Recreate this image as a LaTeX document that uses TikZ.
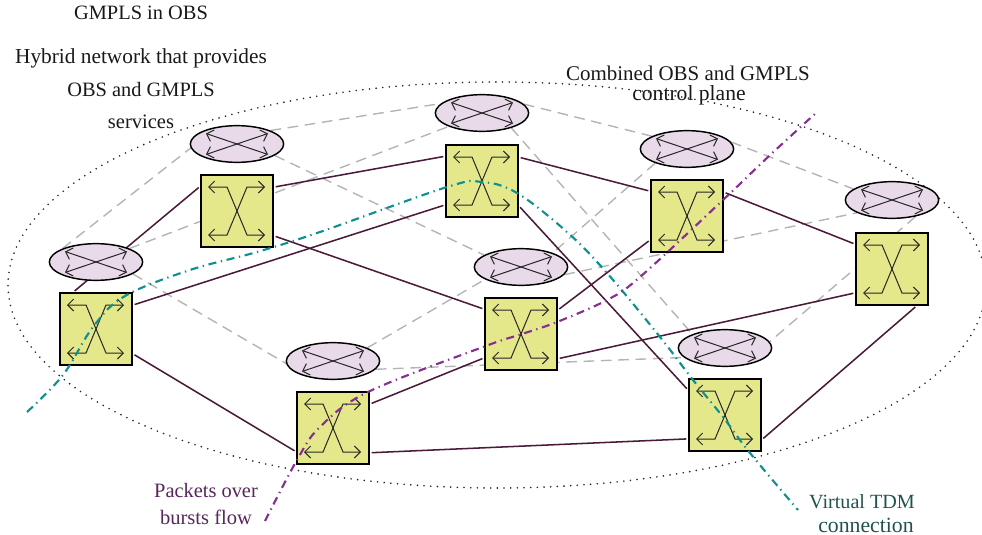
\documentclass[tikz,border=0pt]{standalone}
\usepackage{fontspec}
\setmainfont{Liberation Serif}
\usetikzlibrary{shapes.geometric,arrows.meta,backgrounds}
\definecolor{swfill}{HTML}{E4E88A}
\definecolor{elfill}{HTML}{E8DAE8}
\definecolor{linkc}{HTML}{4A1A38}
\definecolor{dashc}{HTML}{B4B4B4}
\definecolor{tealc}{HTML}{0E8F90}
\definecolor{purpc}{HTML}{872F91}
\definecolor{purptxt}{HTML}{56265C}
\definecolor{tealtxt}{HTML}{1F5350}
\tikzset{
  swbox/.style={draw=black,line width=1.1pt,fill=swfill,rectangle,minimum size=54pt,inner sep=0pt},
  elbox/.style={draw=black,line width=1.1pt,fill=elfill,ellipse,minimum width=70pt,minimum height=27.5pt,inner sep=0pt},
  glyph/.style={line width=0.75pt,{Straight Barb[length=4.5pt,width=9pt]}-{Straight Barb[length=4.5pt,width=9pt]},draw=black!85},
  swglyph/.pic={
    \draw[glyph] (-29,-24) -- (-10,-24) -- (10,24) -- (28,24);
    \draw[glyph] (-29,24) -- (-10,24) -- (10,-24) -- (28,-24);
  },
  elglyph/.pic={
    \draw[glyph] (-31,-10.5) -- (31,10.5);
    \draw[glyph] (-31,10.5) -- (31,-10.5);
  },
  linkl/.style={draw=linkc,line width=1.15pt,shorten >=1.5pt,shorten <=1.5pt},
  dashl/.style={draw=dashc,line width=1.05pt,dash pattern=on 8pt off 5pt},
  bigring/.style={draw=black!85,line width=1.35pt,line cap=round,dash pattern=on 0pt off 5pt},
  tealflow/.style={draw=tealc,line width=1.6pt,dash pattern=on 6pt off 3.5pt on 1pt off 3.5pt},
  purpflow/.style={draw=purpc,line width=1.6pt,dash pattern=on 6pt off 3.5pt on 1pt off 3.5pt},
  lab/.style={inner sep=0pt,text=black!90},
  purplab/.style={lab,text=purptxt},
  teallab/.style={lab,text=tealtxt},
}
\newcommand{\fsz}[1]{\fontsize{#1}{18}\selectfont}
\begin{document}
\begin{tikzpicture}[x=0.75pt,y=-0.75pt]
\useasboundingbox (0,0) rectangle (982,535);
% switches
\foreach \n/\x/\y in {A/96/329,B/237/211,C/482/181,D/687/216,E/892/269,F/521/334,G/725/415,H/333/428}{
  \node[swbox] (\n) at (\x,\y) {};
  \pic at (\x,\y) {swglyph};
}
% control-plane ellipses
\foreach \n/\x/\y in {a/96/262,b/237/144,c/482/113,d/687/149,e/892/200,f/521/267,g/725/348,h/333/361}{
  \node[elbox] (\n) at (\x,\y) {};
  \pic at (\x,\y) {elglyph};
}
\coordinate (ringc) at (497,285);
\begin{scope}[on background layer]
  \draw[dashl] (a.158) -- (b.185);
  \draw[dashl] (a.22) -- (c.202);
  \draw[dashl] (a.342) -- (h.183);
  \draw[dashl] (b.22) -- (c.167);
  \draw[dashl] (b.343) -- (f.162);
  \draw[dashl] (c.12.5) -- (d.160);
  \draw[dashl] (c.333) -- (g.157);
  \draw[dashl] (d.9) -- (e.164);
  \draw[dashl] (d.204) -- (f.24);
  \draw[dashl] (f.350) -- (e.200);
  \draw[dashl] (e.325) -- (g.8);
  \draw[dashl] (h.21) -- (f.199);
  \draw[dashl] (h.349) -- (g.193);
  \draw[linkl] (A.122.6) -- (B.146.3);
  \draw[linkl] (A.33.7) -- (C.213.7);
  \draw[linkl] (A.326.3) -- (H.213.7);
  \draw[linkl] (B.33.7) -- (C.146.3);
  \draw[linkl] (B.326.3) -- (F.146.3);
  \draw[linkl] (C.33.7) -- (D.146.3);
  \draw[linkl] (C.326.3) -- (G.146.3);
  \draw[linkl] (D.33.7) -- (E.146.3);
  \draw[linkl] (D.213.7) -- (F.33.7);
  \draw[linkl] (F.326.3) -- (E.213.7);
  \draw[linkl] (F.213.7) -- (H.33.7);
  \draw[linkl] (H.326.3) -- (G.213.7);
  \draw[linkl] (G.326.3) -- (E.304.5);
  \draw[bigring] (ringc) ellipse [x radius=489,y radius=203];
\end{scope}
% flows
\draw[tealflow] plot[smooth,tension=0.6] coordinates {(27,412) (63,375) (93,327) (125,296) (190,270) (257,252) (320,232) (447,187) (482,182) (517,193) (567,232) (607,273) (660,337) (693,380) (723,417) (750,453) (798,510)};
\draw[purpflow] plot[smooth,tension=0.6] coordinates {(265,521) (297,460) (320,427) (368,392) (483,347) (522,334) (557,322) (607,300) (640,277) (723,200) (768,157) (817,112)};
% labels
\node[lab,font=\fsz{15.3}] (t1) at (141,13) {GMPLS in OBS};
\node[lab,font=\fsz{16}] (t2) at (141,58) {Hybrid network that provides};
\node[lab,font=\fsz{15.3}] (t3) at (141,90) {OBS and GMPLS};
\node[lab,font=\fsz{15.4}] (t4) at (141,122) {services};
\node[lab,font=\fsz{15.7}] (t5) at (688,73) {Combined OBS and GMPLS};
\node[lab,font=\fsz{16.2}] (t6) at (689,95) {control plane};
\node[purplab,font=\fsz{15.3}] (t7) at (206,491) {Packets over};
\node[purplab,font=\fsz{15.4}] (t8) at (206,517) {bursts flow};
\node[teallab,font=\fsz{15.1}] (t9) at (862,502) {Virtual TDM};
\node[teallab,font=\fsz{16.3}] (t10) at (866,525) {connection};
\end{tikzpicture}
\end{document}
